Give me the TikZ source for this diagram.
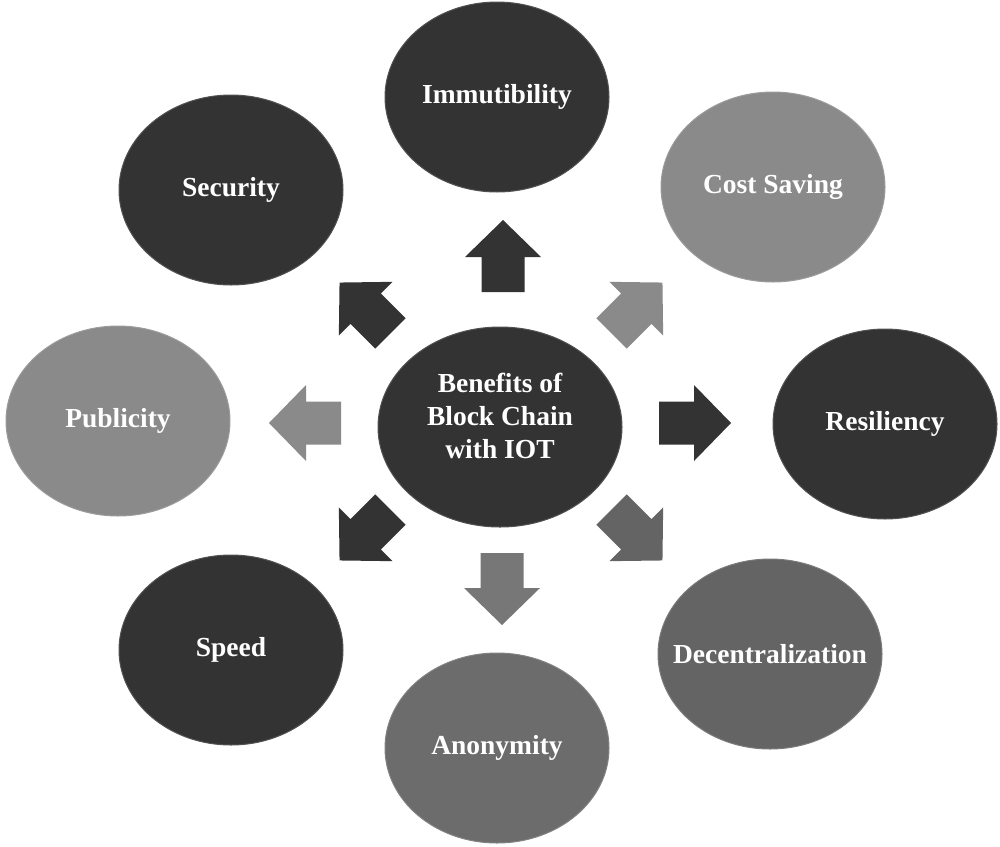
\documentclass[tikz,border=0pt]{standalone}
\usepackage{fontspec}
\setmainfont{Liberation Serif}
\usetikzlibrary{shapes.geometric}
\definecolor{dk}{HTML}{333333}
\definecolor{lt}{HTML}{8A8A8A}
\definecolor{md}{HTML}{646464}
\definecolor{mdb}{HTML}{6C6C6C}
\definecolor{arrmd}{HTML}{777777}
\newcommand\blockarr[4]{%
  \fill[#4, shift={(#1,#2)}, rotate=#3]
    (-36pt,-21.5pt) -- (-1pt,-21.5pt) -- (-1pt,-38pt) -- (36pt,0pt)
    -- (-1pt,38pt) -- (-1pt,21.5pt) -- (-36pt,21.5pt) -- cycle;}
\tikzset{
  bub/.style={ellipse, fill=#1, draw=#1!85!white, line width=1pt,
    inner sep=0pt, minimum width=224pt, minimum height=190pt},
  btext/.style={text=white, font=\bfseries\fontsize{27.5}{33}\selectfont,
    align=center, inner sep=0pt}
}
\begin{document}
\begin{tikzpicture}[x=1pt,y=-1pt]
\useasboundingbox (0,0) rectangle (1000,846);
\node[bub=dk, minimum width=244pt, minimum height=200pt] (c) at (500,427) {};
\node[btext] (ct) at (500,416) {Benefits of\\Block Chain\\with IOT};
\node[bub=dk] (imm) at (497,97) {};
\node[btext] at (imm.center) {Immutibility};
\node[bub=lt] (cost) at (773,187) {};
\node[btext] at (cost.center) {Cost Saving};
\node[bub=dk] (res) at (885,424) {};
\node[btext] at (res.center) {Resiliency};
\node[bub=md] (dec) at (770,654) {};
\node[btext] at (dec.center) {Decentralization};
\node[bub=mdb] (ano) at (497,748) {};
\node[btext] at (ano.center) {Anonymity};
\node[bub=dk] (spd) at (231,650) {};
\node[btext] at (spd.center) {Speed};
\node[bub=lt] (pub) at (118,421) {};
\node[btext] at (pub.center) {Publicity};
\node[bub=dk] (sec) at (231,190) {};
\node[btext] at (sec.center) {Security};
\blockarr{503}{256}{90}{dk}
\blockarr{637}{308}{45}{lt}
\blockarr{695}{423}{0}{dk}
\blockarr{637}{535}{-45}{md}
\blockarr{502}{589}{-90}{arrmd}
\blockarr{365}{535}{-135}{dk}
\blockarr{305}{423}{180}{lt}
\blockarr{365}{308}{135}{dk}
\end{tikzpicture}
\end{document}
